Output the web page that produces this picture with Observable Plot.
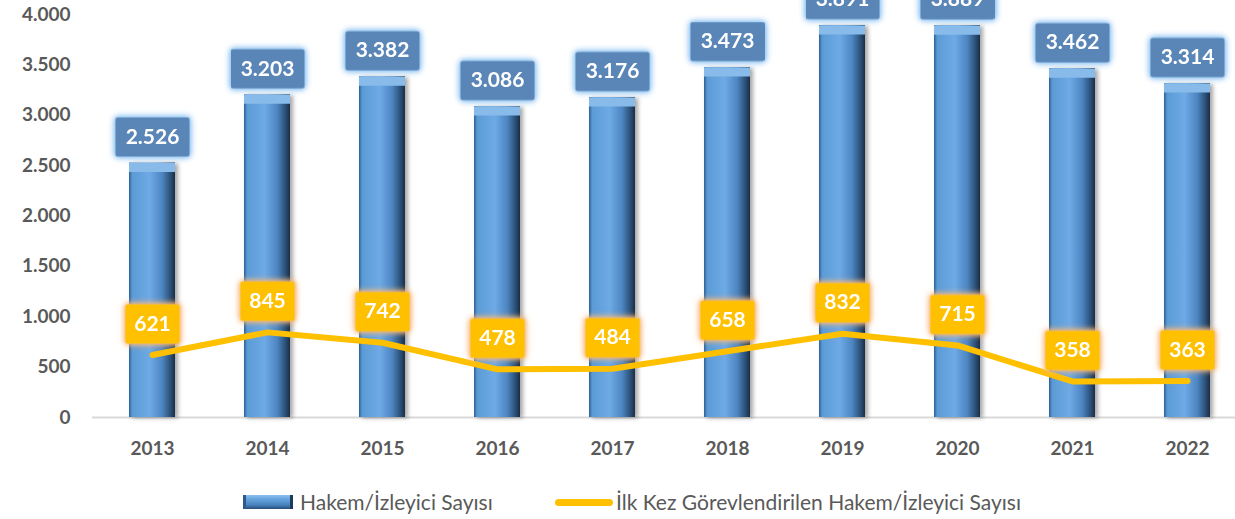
<!DOCTYPE html>
<html><head><meta charset="utf-8">
<script src="https://cdn.jsdelivr.net/npm/d3@7"></script>
<script src="https://cdn.jsdelivr.net/npm/@observablehq/plot@0.6"></script>
<style>
body{margin:0;background:#fff;font-family:Lato,"Open Sans",sans-serif;overflow:hidden;width:1235px;height:519px}
#legend{position:relative;height:44px;font-size:21px;color:#595959}
#legend .sw,#legend .lbl{position:absolute}
#legend .lbl{top:15px;white-space:nowrap;line-height:24px}
#sw1{left:243px;top:20px;width:50px;height:14px;background:linear-gradient(to bottom,#8fc1ee 0%,#6aa6e0 25%,#4a84c0 70%,#2a4e78 100%);border-left:3px solid #2d5a8c;border-right:3px solid #1f3a5a;box-sizing:border-box}
#sw2{left:555px;top:24px;width:58px;height:7px;background:#ffc000;border-radius:3.5px}
#lb1{left:300px}
#lb2{left:616px}
</style></head><body>
<div id="chart"></div>
<div id="legend"><span class="sw" id="sw1"></span><span class="lbl" id="lb1"></span><span class="sw" id="sw2"></span><span class="lbl" id="lb2"></span></div>
<script>
const years = ["2013","2014","2015","2016","2017","2018","2019","2020","2021","2022"];
const hakem = [2526, 3203, 3382, 3086, 3176, 3473, 3891, 3889, 3462, 3314];
const ilkKez = [621, 845, 742, 478, 484, 658, 832, 715, 358, 363];
const yTicks = [0, 500, 1000, 1500, 2000, 2500, 3000, 3500, 4000];
const seriesNames = ["Hakem/İzleyici Sayısı", "İlk Kez Görevlendirilen Hakem/İzleyici Sayısı"];

const fmt = d3.formatLocale({decimal: ",", thousands: ".", grouping: [3], currency: ["", ""]}).format(",d");
const bars = years.map((year, i) => ({year, value: hakem[i]}));
const firsts = years.map((year, i) => ({year, value: ilkKez[i]}));

function roundBox(w, h, r) {
  return {draw(ctx) {
    const x0 = -w / 2, y0 = -h / 2, x1 = w / 2, y1 = h / 2;
    ctx.moveTo(x0 + r, y0);
    ctx.arcTo(x1, y0, x1, y1, r);
    ctx.arcTo(x1, y1, x0, y1, r);
    ctx.arcTo(x0, y1, x0, y0, r);
    ctx.arcTo(x0, y0, x1, y0, r);
    ctx.closePath();
  }};
}
const blueBox = roundBox(74, 39, 2);
const yellowBox = roundBox(54, 39, 2);

const chart = Plot.plot({
  width: 1235, height: 475,
  marginLeft: 92, marginRight: -12, marginTop: 14, marginBottom: 58,
  style: {fontFamily: "Lato, 'Open Sans', sans-serif", fontSize: "19px", fontWeight: "bold", color: "#595959", background: "transparent"},
  x: {domain: years, paddingInner: 0.6, paddingOuter: 0.3, label: null, tickSize: 0, tickPadding: 24},
  y: {domain: [0, 4000], ticks: yTicks, tickFormat: fmt, label: null, tickSize: 0, tickPadding: 22},
  marks: [
    Plot.ruleY([0], {stroke: "#d9d9d9", strokeWidth: 2}),
    Plot.barY(bars, {x: "year", y: "value", fill: "url(#barGrad)"}),
    Plot.tickY(bars, {x: "year", y: "value", stroke: "#88bbea", strokeWidth: 9, dy: 4.5}),
    Plot.line(firsts, {x: "year", y: "value", stroke: "#ffc000", strokeWidth: 6, strokeLinecap: "round", strokeLinejoin: "round"}),
    Plot.dot(bars, {x: "year", y: "value", symbol: blueBox, fill: "#5985b7", stroke: "none", dy: -26}),
    Plot.text(bars, {x: "year", y: "value", text: d => fmt(d.value), dy: -26, fill: "white", fontSize: 21, fontWeight: "bold"}),
    Plot.dot(firsts, {x: "year", y: "value", symbol: yellowBox, fill: "#ffc000", stroke: "none", dy: -31}),
    Plot.text(firsts, {x: "year", y: "value", text: d => fmt(d.value), dy: -31, fill: "white", fontSize: 21, fontWeight: "bold"})
  ]
});

const ns = "http://www.w3.org/2000/svg";
const defs = document.createElementNS(ns, "defs");
defs.innerHTML = `
<linearGradient id="barGrad" x1="0" y1="0" x2="1" y2="0">
  <stop offset="0" stop-color="#2f5f93"/>
  <stop offset="0.07" stop-color="#5b9bd5"/>
  <stop offset="0.45" stop-color="#6eaae6"/>
  <stop offset="0.72" stop-color="#4d86c2"/>
  <stop offset="0.9" stop-color="#2b5077"/>
  <stop offset="1" stop-color="#1a2d45"/>
</linearGradient>`;
chart.insertBefore(defs, chart.firstChild);
const barG = chart.querySelector('g[aria-label="bar"]');
if (barG) barG.style.filter = "drop-shadow(3px 1px 2px rgba(0,0,0,0.35))";
const dots = chart.querySelectorAll('g[aria-label="dot"]');
if (dots[0]) dots[0].style.filter = "drop-shadow(0 0 3px #8ec3f2) drop-shadow(0 0 2px #8ec3f2)";
if (dots[1]) dots[1].style.filter = "drop-shadow(0 0 3px #f7b97a) drop-shadow(0 0 2px #f7b97a)";
document.getElementById("chart").appendChild(chart);
document.getElementById("lb1").textContent = seriesNames[0];
document.getElementById("lb2").textContent = seriesNames[1];
</script>
</body></html>
